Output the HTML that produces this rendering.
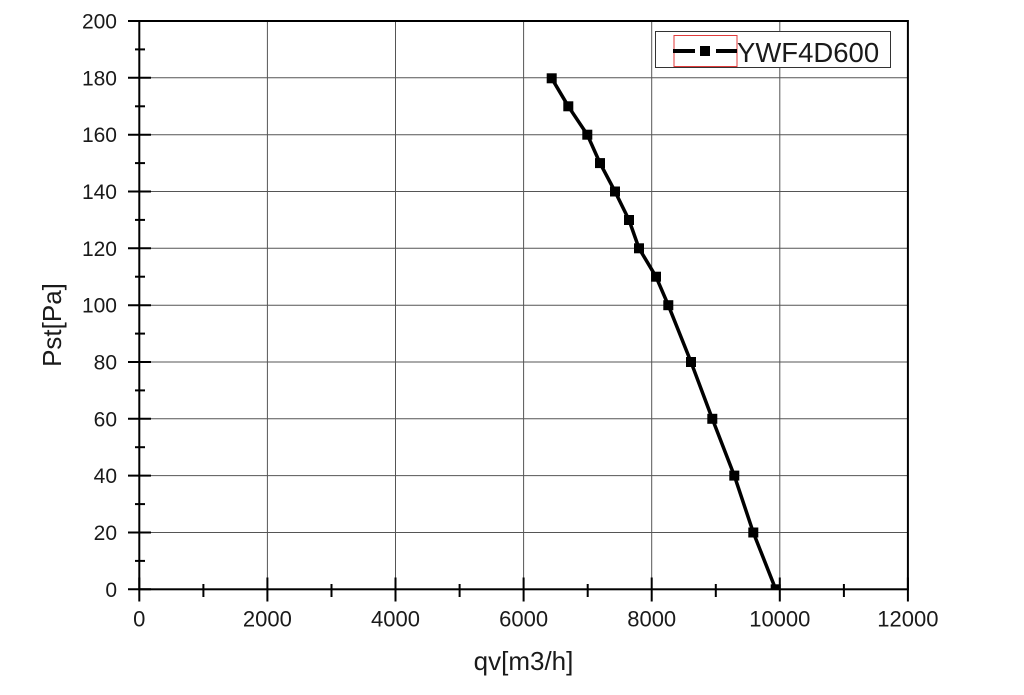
<!DOCTYPE html>
<html>
<head>
<meta charset="utf-8">
<style>
html,body{margin:0;padding:0;background:#fff;}
svg{display:block;}
text{font-family:"Liberation Sans",Arial,sans-serif;fill:#1a1a1a;}
</style>
</head>
<body>
<svg width="1024" height="695" viewBox="0 0 1024 695" xmlns="http://www.w3.org/2000/svg">
<defs>
<clipPath id="pa"><rect x="139.3" y="21" width="768.6" height="568.3"/></clipPath>
</defs>
<rect x="0" y="0" width="1024" height="695" fill="#fff"/>
<!-- grid -->
<g stroke="#555" stroke-width="1">
<line x1="267.4" y1="21" x2="267.4" y2="589.3"/>
<line x1="395.5" y1="21" x2="395.5" y2="589.3"/>
<line x1="523.6" y1="21" x2="523.6" y2="589.3"/>
<line x1="651.7" y1="21" x2="651.7" y2="589.3"/>
<line x1="779.8" y1="21" x2="779.8" y2="589.3"/>
<line x1="139.3" y1="77.8" x2="907.9" y2="77.8"/>
<line x1="139.3" y1="134.7" x2="907.9" y2="134.7"/>
<line x1="139.3" y1="191.5" x2="907.9" y2="191.5"/>
<line x1="139.3" y1="248.3" x2="907.9" y2="248.3"/>
<line x1="139.3" y1="305.2" x2="907.9" y2="305.2"/>
<line x1="139.3" y1="362.0" x2="907.9" y2="362.0"/>
<line x1="139.3" y1="418.8" x2="907.9" y2="418.8"/>
<line x1="139.3" y1="475.6" x2="907.9" y2="475.6"/>
<line x1="139.3" y1="532.5" x2="907.9" y2="532.5"/>
</g>
<!-- frame -->
<rect x="139.3" y="21" width="768.6" height="568.3" fill="none" stroke="#000" stroke-width="2"/>
<!-- y ticks -->
<g stroke="#000" stroke-width="2">
<line x1="128" y1="21" x2="151" y2="21"/>
<line x1="128" y1="77.8" x2="151" y2="77.8"/>
<line x1="128" y1="134.7" x2="151" y2="134.7"/>
<line x1="128" y1="191.5" x2="151" y2="191.5"/>
<line x1="128" y1="248.3" x2="151" y2="248.3"/>
<line x1="128" y1="305.2" x2="151" y2="305.2"/>
<line x1="128" y1="362.0" x2="151" y2="362.0"/>
<line x1="128" y1="418.8" x2="151" y2="418.8"/>
<line x1="128" y1="475.6" x2="151" y2="475.6"/>
<line x1="128" y1="532.5" x2="151" y2="532.5"/>
<line x1="128" y1="589.3" x2="151" y2="589.3"/>
<line x1="135" y1="49.4" x2="145" y2="49.4"/>
<line x1="135" y1="106.3" x2="145" y2="106.3"/>
<line x1="135" y1="163.1" x2="145" y2="163.1"/>
<line x1="135" y1="219.9" x2="145" y2="219.9"/>
<line x1="135" y1="276.7" x2="145" y2="276.7"/>
<line x1="135" y1="333.6" x2="145" y2="333.6"/>
<line x1="135" y1="390.4" x2="145" y2="390.4"/>
<line x1="135" y1="447.2" x2="145" y2="447.2"/>
<line x1="135" y1="504.1" x2="145" y2="504.1"/>
<line x1="135" y1="560.9" x2="145" y2="560.9"/>
<!-- x ticks -->
<line x1="139.3" y1="577.5" x2="139.3" y2="601.5"/>
<line x1="267.4" y1="577.5" x2="267.4" y2="601.5"/>
<line x1="395.5" y1="577.5" x2="395.5" y2="601.5"/>
<line x1="523.6" y1="577.5" x2="523.6" y2="601.5"/>
<line x1="651.7" y1="577.5" x2="651.7" y2="601.5"/>
<line x1="779.8" y1="577.5" x2="779.8" y2="601.5"/>
<line x1="907.9" y1="577.5" x2="907.9" y2="601.5"/>
<line x1="203.4" y1="584" x2="203.4" y2="597"/>
<line x1="331.5" y1="584" x2="331.5" y2="597"/>
<line x1="459.6" y1="584" x2="459.6" y2="597"/>
<line x1="587.7" y1="584" x2="587.7" y2="597"/>
<line x1="715.8" y1="584" x2="715.8" y2="597"/>
<line x1="843.9" y1="584" x2="843.9" y2="597"/>
</g>
<!-- y labels -->
<g font-size="21" text-anchor="end">
<text x="117" y="28.5">200</text>
<text x="117" y="85.3">180</text>
<text x="117" y="142.2">160</text>
<text x="117" y="199">140</text>
<text x="117" y="255.8">120</text>
<text x="117" y="312.7">100</text>
<text x="117" y="369.5">80</text>
<text x="117" y="426.3">60</text>
<text x="117" y="483.1">40</text>
<text x="117" y="540">20</text>
<text x="117" y="596.8">0</text>
</g>
<!-- x labels -->
<g font-size="22" text-anchor="middle">
<text x="139.3" y="626.5">0</text>
<text x="267.4" y="626.5">2000</text>
<text x="395.5" y="626.5">4000</text>
<text x="523.6" y="626.5">6000</text>
<text x="651.7" y="626.5">8000</text>
<text x="779.8" y="626.5">10000</text>
<text x="907.9" y="626.5">12000</text>
</g>
<!-- axis titles -->
<text x="523.5" y="670" font-size="26" text-anchor="middle">qv[m3/h]</text>
<text transform="translate(61,325) rotate(-90)" font-size="26" text-anchor="middle">Pst[Pa]</text>
<!-- series -->
<g clip-path="url(#pa)">
<polyline fill="none" stroke="#000" stroke-width="3.5" stroke-linejoin="round"
points="551.7,78.3 568.3,106.3 587.3,134.7 600,163.1 615,191.5 629,220 639,248.3 656,276.7 668.3,305.2 691,362 712.3,418.8 734.3,475.6 753.3,532.5 775.7,589.3"/>
<g fill="#000">
<rect x="546.7" y="73.3" width="10" height="10"/>
<rect x="563.3" y="101.3" width="10" height="10"/>
<rect x="582.3" y="129.7" width="10" height="10"/>
<rect x="595" y="158.1" width="10" height="10"/>
<rect x="610" y="186.5" width="10" height="10"/>
<rect x="624" y="215" width="10" height="10"/>
<rect x="634" y="243.3" width="10" height="10"/>
<rect x="651" y="271.7" width="10" height="10"/>
<rect x="663.3" y="300.2" width="10" height="10"/>
<rect x="686" y="357" width="10" height="10"/>
<rect x="707.3" y="413.8" width="10" height="10"/>
<rect x="729.3" y="470.6" width="10" height="10"/>
<rect x="748.3" y="527.5" width="10" height="10"/>
<rect x="770.7" y="584.3" width="10" height="10"/>
</g>
</g>
<!-- legend -->
<rect x="655.5" y="31.5" width="235" height="36" fill="#fff" stroke="#333" stroke-width="1"/>
<rect x="674" y="35.5" width="63" height="31" fill="none" stroke="#e03a3a" stroke-width="1"/>
<line x1="673" y1="51" x2="695" y2="51" stroke="#000" stroke-width="4"/>
<line x1="716" y1="51" x2="737" y2="51" stroke="#000" stroke-width="4"/>
<rect x="700" y="46" width="10" height="10" fill="#000"/>
<text x="737" y="62" font-size="27.5">YWF4D600</text>
</svg>
</body>
</html>
